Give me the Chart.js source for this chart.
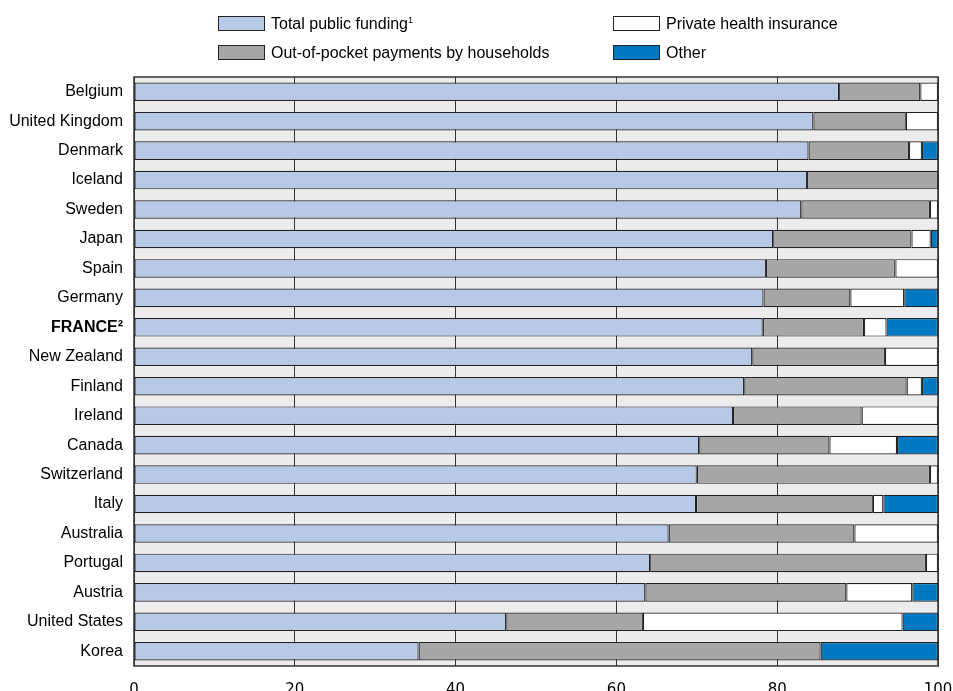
<!DOCTYPE html>
<html>
<head>
    <meta charset="UTF-8">
    <script src="https://cdn.jsdelivr.net/npm/chart.js"></script>
    <style>
        html, body { margin: 0; padding: 0; background: #fff; }
        body { width: 953px; height: 691px; position: relative; overflow: hidden; font-family: "Liberation Sans", Arial, sans-serif; }
        #chartBox { position: absolute; left: 0; top: 0; width: 953px; height: 691px; }
        .legend-item { position: absolute; font-size: 16px; color: #000; white-space: nowrap; line-height: 15px; }
        .legend-item span.box { display: inline-block; width: 45px; height: 13px; border: 1px solid #222; vertical-align: top; margin-right: 6px; }
        .legend-item sup { font-size: 9px; line-height: 0; }
    </style>
</head>
<body>
    <div id="chartBox"><canvas id="chart"></canvas></div>
    <div class="legend-item" style="left:218px; top:16px;"><span class="box" style="background:#b8c9e8"></span>Total public funding<sup>1</sup></div>
    <div class="legend-item" style="left:218px; top:45px;"><span class="box" style="background:#a6a6a6"></span>Out-of-pocket payments by households</div>
    <div class="legend-item" style="left:613px; top:16px;"><span class="box" style="background:#ffffff"></span>Private health insurance</div>
    <div class="legend-item" style="left:613px; top:45px;"><span class="box" style="background:#0078c2"></span>Other</div>
    <script>
    const countries = ['Belgium', 'United Kingdom', 'Denmark', 'Iceland', 'Sweden', 'Japan', 'Spain', 'Germany',
        'FRANCE\u00B2', 'New Zealand', 'Finland', 'Ireland', 'Canada', 'Switzerland', 'Italy', 'Australia',
        'Portugal', 'Austria', 'United States', 'Korea'];
    const publicFunding = [87.7, 84.5, 83.9, 83.7, 83.0, 79.5, 78.6, 78.3, 78.2, 76.9, 75.9, 74.5, 70.3, 70.0, 69.9, 66.5, 64.2, 63.6, 46.3, 35.4];
    const outOfPocket = [10.1, 11.5, 12.5, 16.3, 16.0, 17.2, 16.1, 10.8, 12.6, 16.5, 20.2, 16.0, 16.2, 29.0, 22.0, 23.1, 34.3, 25.0, 17.0, 50.0];
    const privateIns = [2.2, 4.0, 1.6, 0, 1.0, 2.4, 5.3, 6.7, 2.8, 6.6, 1.9, 9.5, 8.4, 1.0, 1.3, 10.4, 1.5, 8.2, 32.3, 0];
    const other = [0, 0, 2.0, 0, 0, 0.9, 0, 4.2, 6.4, 0, 2.0, 0, 5.1, 0, 6.8, 0, 0, 3.2, 4.4, 14.6];
    const xTicks = [0, 20, 40, 60, 80, 100];

    const plotBg = {
        id: 'plotBg',
        beforeDraw(chart) {
            const a = chart.chartArea, ctx = chart.ctx;
            ctx.save();
            ctx.fillStyle = '#ececec';
            ctx.fillRect(a.left, a.top, a.right - a.left, a.bottom - a.top);
            ctx.restore();
        },
        afterDraw(chart) {
            const a = chart.chartArea, ctx = chart.ctx;
            ctx.save();
            ctx.strokeStyle = '#333';
            ctx.lineWidth = 1.5;
            ctx.strokeRect(a.left, a.top, a.right - a.left, a.bottom - a.top);
            ctx.restore();
        }
    };

    function ds(label, data, color) {
        return {
            label: label,
            data: data,
            backgroundColor: color,
            borderColor: '#222',
            borderWidth: 1.2,
            borderSkipped: false,
            barPercentage: 0.63,
            categoryPercentage: 1
        };
    }

    new Chart(document.getElementById('chart'), {
        type: 'bar',
        data: {
            labels: countries,
            datasets: [
                ds('Total public funding', publicFunding, '#b8c9e8'),
                ds('Out-of-pocket payments by households', outOfPocket, '#a6a6a6'),
                ds('Private health insurance', privateIns, '#ffffff'),
                ds('Other', other, '#0078c2')
            ]
        },
        options: {
            indexAxis: 'y',
            responsive: true,
            maintainAspectRatio: false,
            animation: false,
            layout: { padding: { top: 77, right: 15, left: 0, bottom: 0 } },
            plugins: {
                legend: { display: false },
                tooltip: { enabled: false }
            },
            scales: {
                x: {
                    stacked: true,
                    min: 0,
                    max: 100,
                    afterBuildTicks: scale => { scale.ticks = xTicks.map(v => ({ value: v })); },
                    afterFit: scale => {
                        scale.height = 25;
                        scale.paddingLeft = 0;
                        scale.paddingRight = 0;
                    },
                    grid: { color: '#333', lineWidth: 1, drawTicks: false },
                    border: { display: false },
                    ticks: {
                        color: '#000',
                        padding: 15,
                        font: { family: 'DejaVu Sans', size: 15 }
                    }
                },
                y: {
                    stacked: true,
                    afterFit: scale => { scale.width = 134; },
                    grid: { display: false, drawTicks: false },
                    border: { display: false },
                    ticks: {
                        color: '#000',
                        padding: 11,
                        autoSkip: false,
                        font: ctx => ({
                            family: 'Liberation Sans',
                            size: 16,
                            weight: ctx.index === 8 ? 'bold' : 'normal'
                        })
                    }
                }
            }
        },
        plugins: [plotBg]
    });
    </script>
</body>
</html>
